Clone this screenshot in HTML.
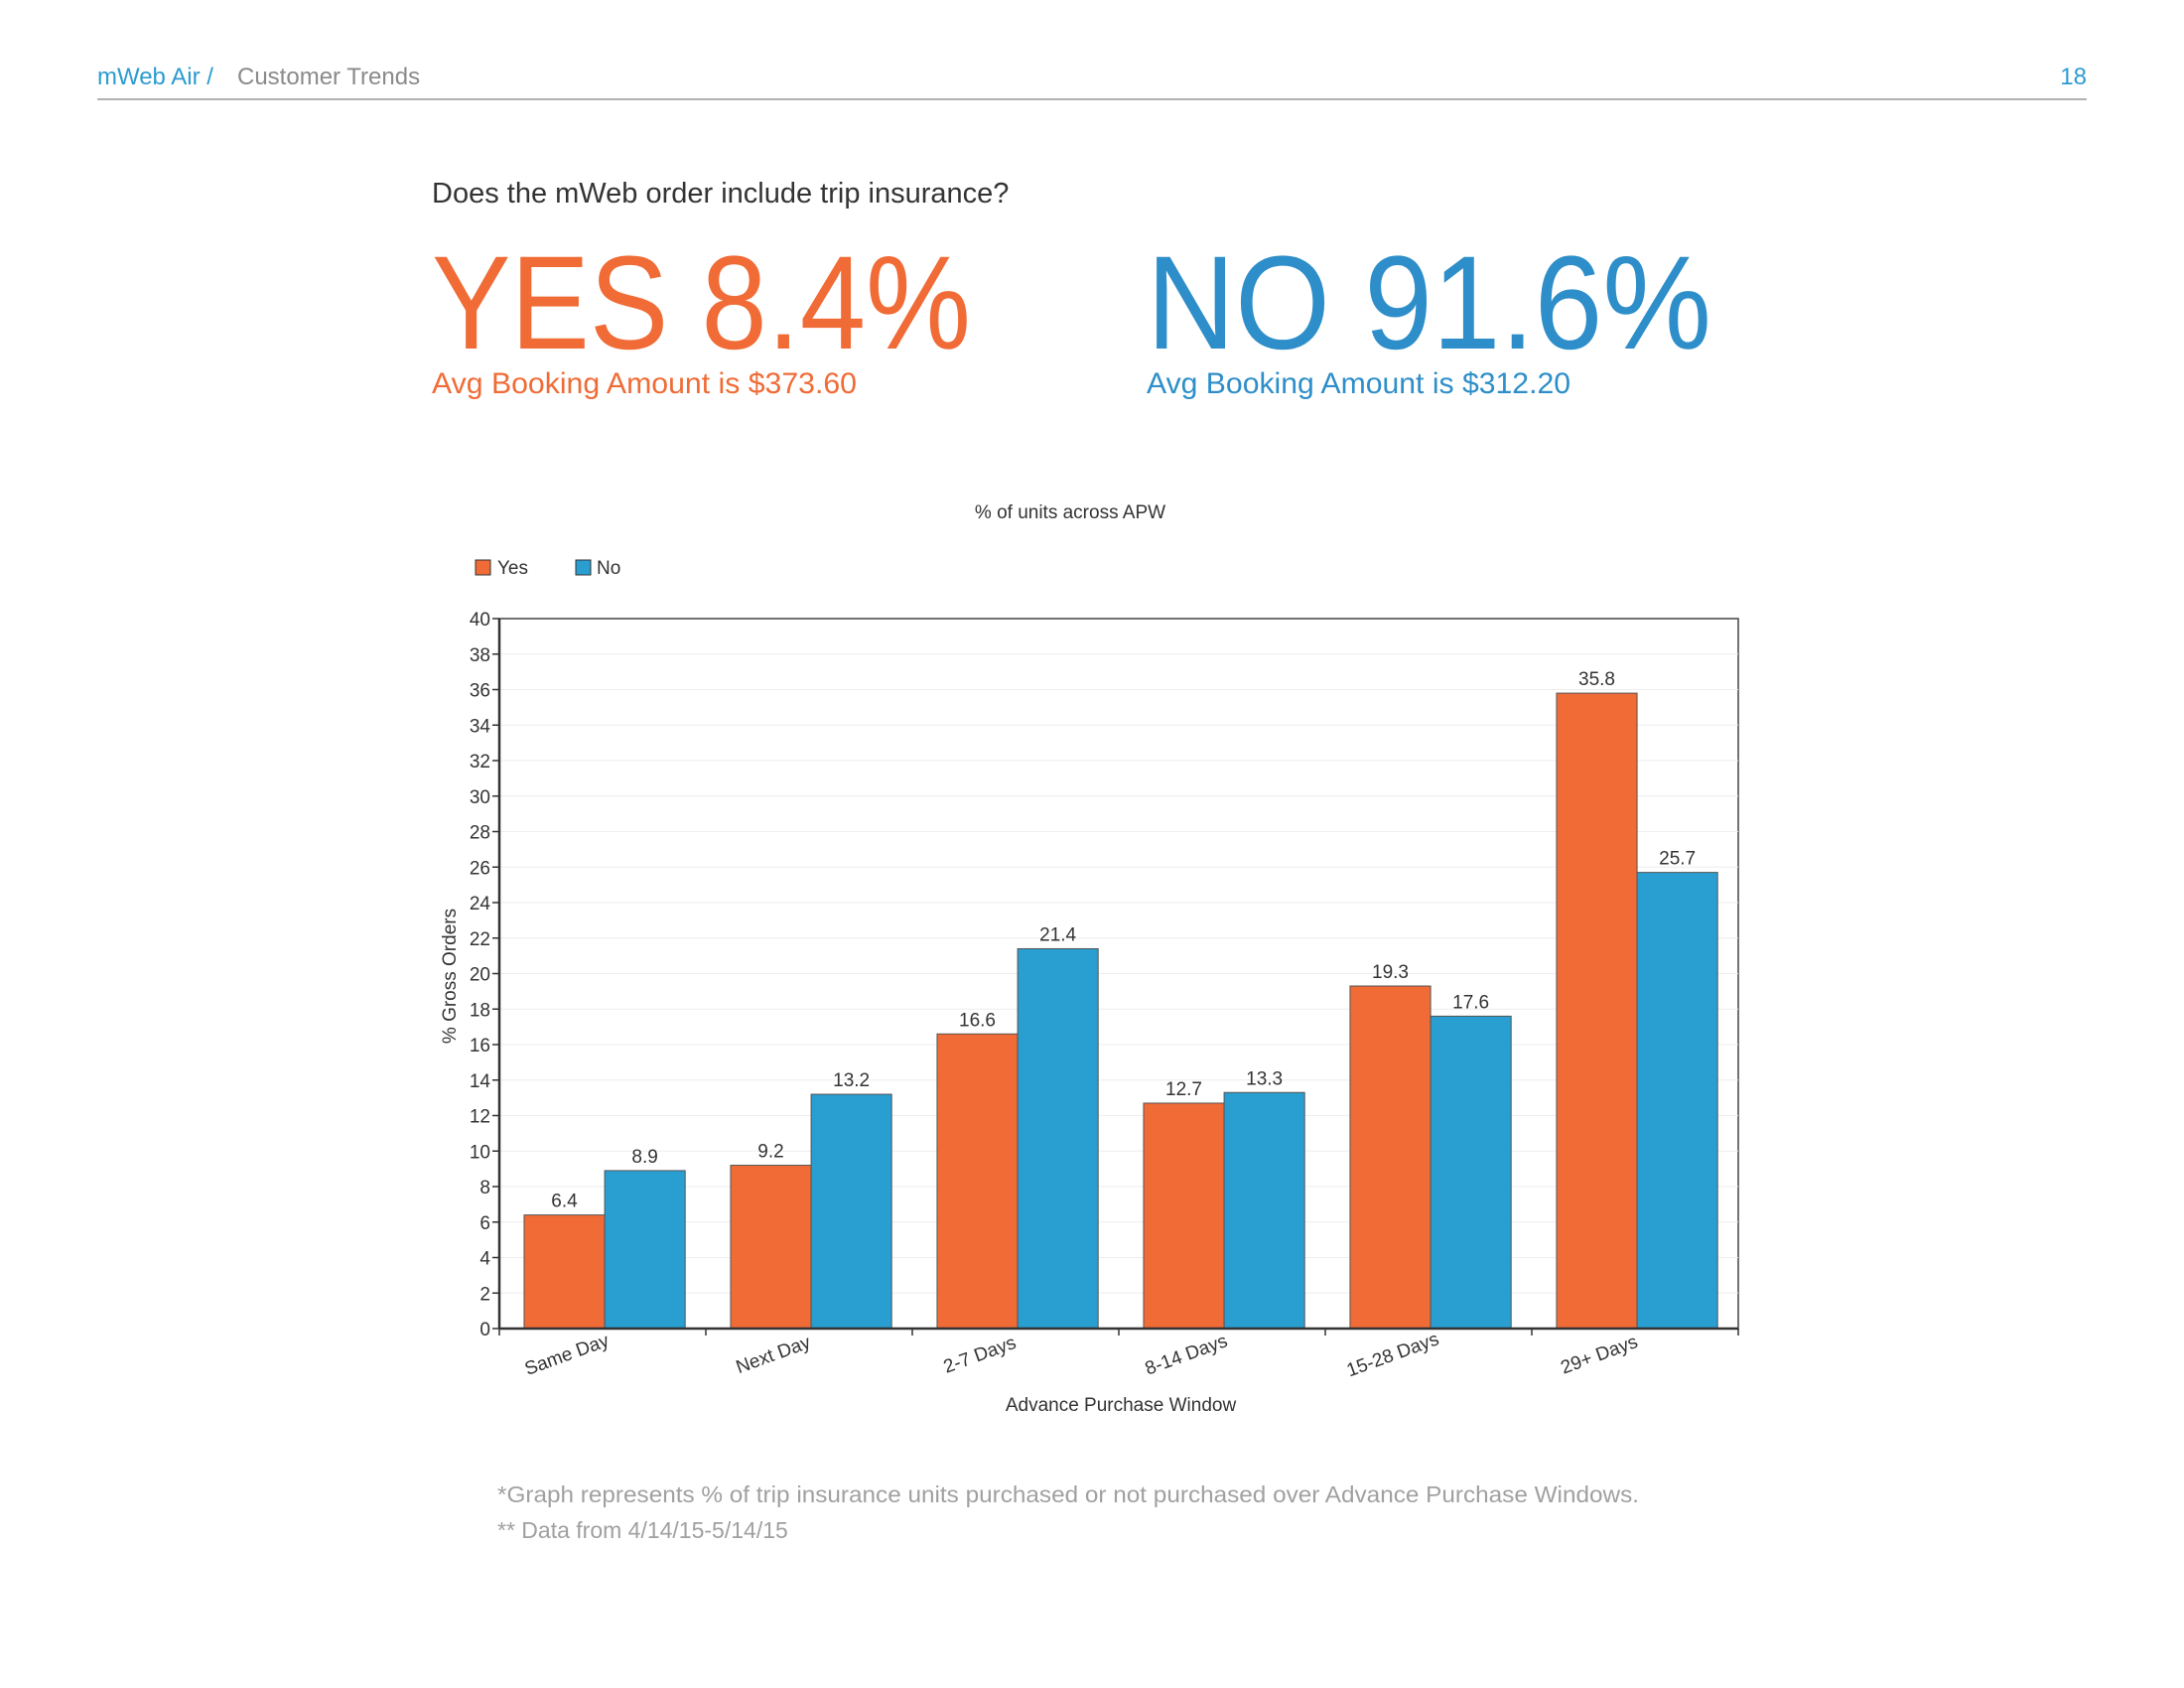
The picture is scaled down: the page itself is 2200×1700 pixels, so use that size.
<!DOCTYPE html>
<html><head><meta charset="utf-8"><style>
html,body{margin:0;padding:0;background:#fff;}
svg{display:block;font-family:"Liberation Sans",sans-serif;}
</style></head><body>
<svg id="page" width="2200" height="1700" viewBox="0 0 2200 1700" xmlns="http://www.w3.org/2000/svg">
<text x="98" y="85" font-size="24" fill="#2d9bd0">mWeb Air /</text>
<text x="239" y="85" font-size="24" fill="#8a8a8a">Customer Trends</text>
<text x="2102" y="85" font-size="24" fill="#2d9bd0" text-anchor="end">18</text>
<line x1="98" y1="100" x2="2102" y2="100" stroke="#999" stroke-width="1.5"/>
<text x="435" y="204" font-size="29" fill="#333">Does the mWeb order include trip insurance?</text>
<text x="435" y="351" font-size="134" fill="#f06b36" textLength="543" lengthAdjust="spacingAndGlyphs">YES 8.4%</text>
<text x="435" y="396" font-size="30" fill="#f06b36" textLength="428" lengthAdjust="spacingAndGlyphs">Avg Booking Amount is $373.60</text>
<text x="1155" y="351" font-size="134" fill="#2d8ec9" textLength="569" lengthAdjust="spacingAndGlyphs">NO 91.6%</text>
<text x="1155" y="396" font-size="30" fill="#2d8ec9" textLength="427" lengthAdjust="spacingAndGlyphs">Avg Booking Amount is $312.20</text>
<text x="1078" y="522" font-size="19" fill="#333" text-anchor="middle">% of units across APW</text>
<rect x="479" y="564" width="15" height="15" fill="#f06b36" stroke="#333" stroke-width="1"/>
<text x="501" y="578" font-size="19" fill="#333">Yes</text>
<rect x="580" y="564" width="15" height="15" fill="#289ed1" stroke="#333" stroke-width="1"/>
<text x="601" y="578" font-size="19" fill="#333">No</text>
<g id="chart"></g>
<text x="501" y="1513" font-size="23" fill="#a0a0a0" textLength="1150" lengthAdjust="spacingAndGlyphs">*Graph represents % of trip insurance units purchased or not purchased over Advance Purchase Windows.</text>
<text x="501" y="1549" font-size="23" fill="#a0a0a0">** Data from 4/14/15-5/14/15</text>
</svg>
<script>
const categories = ["Same Day","Next Day","2-7 Days","8-14 Days","15-28 Days","29+ Days"];
const yesValues = [6.4, 9.2, 16.6, 12.7, 19.3, 35.8];
const noValues = [8.9, 13.2, 21.4, 13.3, 17.6, 25.7];
const yTicks = [0,2,4,6,8,10,12,14,16,18,20,22,24,26,28,30,32,34,36,38,40];

const NS = "http://www.w3.org/2000/svg";
const L = 503, R = 1751, T = 623, B = 1338, YMAX = 40;
const g = document.getElementById("chart");
function y(v){ return B - (v / YMAX) * (B - T); }
const gw = (R - L) / categories.length;
function xg(i){ return L + i * gw; }
function mk(tag, attrs){ const e = document.createElementNS(NS, tag); for (const k in attrs) e.setAttribute(k, attrs[k]); g.appendChild(e); return e; }

mk("rect", {x:L, y:T, width:R-L, height:B-T, fill:"#fff", stroke:"#444", "stroke-width":1.5});
yTicks.forEach(t => {
  if (t > 0 && t < YMAX) {
    const gl = mk("line", {x1:L, x2:R, y1:y(t), y2:y(t), stroke:"#eee", "stroke-width":1});
    
    
  }
  const tk = mk("line", {x1:L-7, x2:L, y1:y(t), y2:y(t), stroke:"#333", "stroke-width":1.5});
  
  
  const lb = mk("text", {x:L-9, y:y(t)+7, "font-size":19, fill:"#333", "text-anchor":"end"});
  lb.textContent = t;
  
  
});
const bw = gw * 0.39, off = gw * 0.12;
categories.forEach((c, i) => {
  const x0 = xg(i) + off;
  [[yesValues[i], "#f06b36", "yes"], [noValues[i], "#289ed1", "no"]].forEach((s, j) => {
    const bx = x0 + j * bw;
    const r = mk("rect", {x:bx, y:y(s[0]), width:bw, height:B - y(s[0]), fill:s[1], stroke:"#555", "stroke-width":1});
    
    
    const v = mk("text", {x:bx + bw/2, y:y(s[0]) - 8, "font-size":19, fill:"#333", "text-anchor":"middle"});
    v.textContent = s[0].toFixed(1);
    
    
  });
  const tk = mk("line", {x1:xg(i), x2:xg(i), y1:B, y2:B+7, stroke:"#333", "stroke-width":1.5});
  
  
  const cx = xg(i) + gw/2 - 34, cy = B + 32;
  const lb = mk("text", {x:cx, y:cy, "font-size":19, fill:"#333", "text-anchor":"middle", transform:"rotate(-20 " + cx + " " + cy + ")"});
  lb.textContent = c;
  
  
});
const tk2 = mk("line", {x1:R, x2:R, y1:B, y2:B+7, stroke:"#333", "stroke-width":1.5});


mk("line", {x1:L, x2:R, y1:B, y2:B, stroke:"#333", "stroke-width":2.5});
mk("line", {x1:L, x2:L, y1:T, y2:B, stroke:"#333", "stroke-width":2.5});
const xt = mk("text", {x:1129, y:1421, "font-size":19, fill:"#333", "text-anchor":"middle"});
xt.textContent = "Advance Purchase Window";


const yt = mk("text", {x:459, y:983, "font-size":19, fill:"#333", "text-anchor":"middle", transform:"rotate(-90 459 983)"});
yt.textContent = "% Gross Orders";


</script>
</body></html>
